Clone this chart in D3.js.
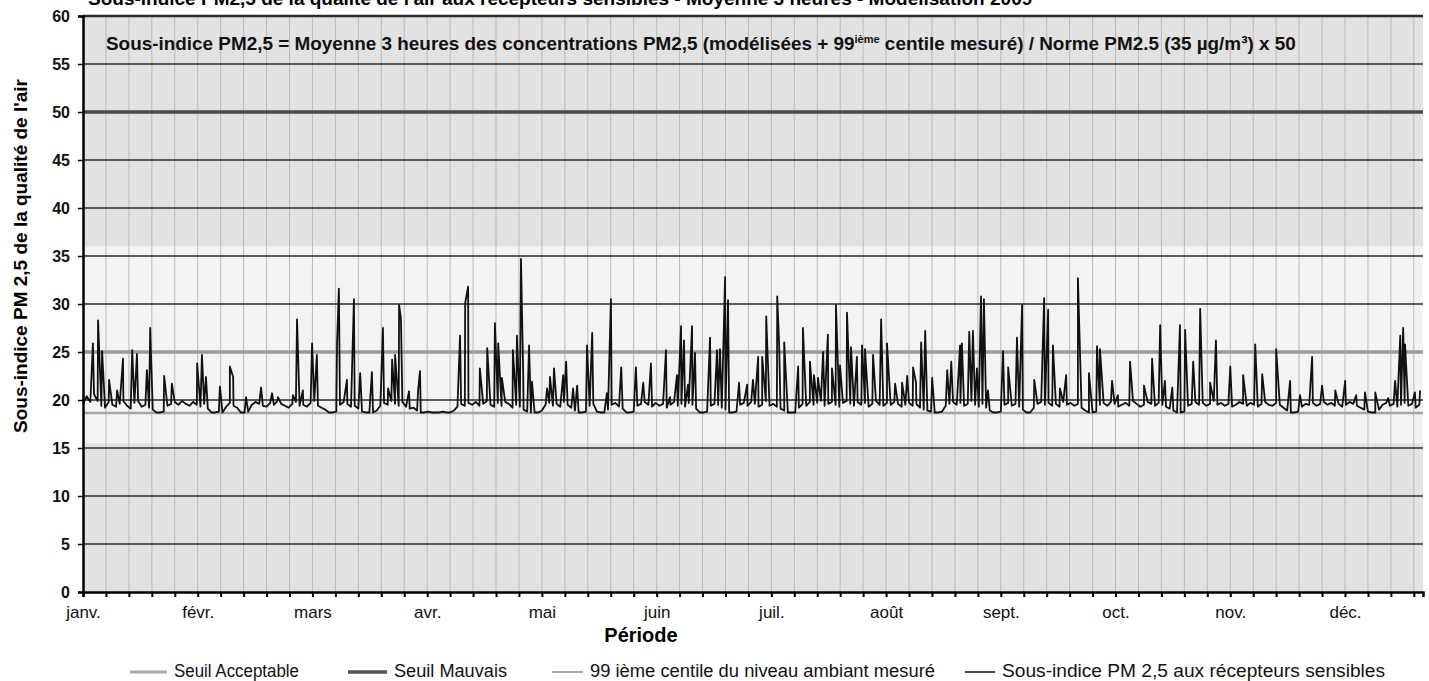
<!DOCTYPE html>
<html>
<head>
<meta charset="utf-8">
<script src="https://cdn.jsdelivr.net/npm/d3@7"></script>
<style>
  body { margin: 0; background: #fff; }
  svg { display: block; font-family: "Liberation Sans", Arial, sans-serif; }
</style>
</head>
<body>
<script>
// month labels, every 250 three-hour steps (31.25 days)
var months = ["janv.", "févr.", "mars", "avr.", "mai", "juin", "juil.", "août", "sept.", "oct.", "nov.", "déc."];
var yTicks = [0, 5, 10, 15, 20, 25, 30, 35, 40, 45, 50, 55, 60];

// thresholds
var seuilAcceptable = 25;
var seuilMauvais = 50;
var centile99 = 18.65;

// daily background level of the sub-index (day 0 = 1 Jan)
var baseline = [
  19.6, 20.4, 19.8, 20.6, 19.9, 19.4, 19.2, 19.8, 19.5, 19.3,
  19.6, 19.9, 19.4, 19.1, 19.7, 19.9, 19.3, 19.5, 19.2, 19.0,
  18.7, 18.7, 18.8, 19.4, 19.6, 19.8, 19.5, 19.9, 19.6, 19.4,
  19.8, 19.5, 19.3, 19.6, 19.1, 18.7, 18.7, 18.8, 18.7, 19.3,
  19.7, 19.4, 19.2, 18.7, 18.7, 18.8, 19.5, 19.8, 19.6, 19.4,
  19.3, 19.7, 19.5, 19.9, 19.6, 19.4, 19.2, 19.6, 19.8, 19.4,
  19.5, 19.3, 19.7, 19.9, 19.4, 19.2, 19.0, 18.7, 18.7, 18.8,
  19.5, 19.8, 19.6, 19.3, 19.4, 19.1, 18.8, 18.7, 18.7, 18.7,
  18.9, 19.4, 19.7, 19.5, 19.9, 19.6, 19.4, 19.8, 19.3, 19.1,
  19.2, 18.9, 18.7, 18.7, 18.8, 18.7, 18.7, 18.7, 18.8, 18.7,
  18.7, 18.9, 19.3, 19.6, 19.4, 19.7, 19.5, 19.8, 19.4, 19.6,
  19.9, 19.5, 19.3, 19.7, 19.4, 19.8, 19.6, 19.2, 19.5, 19.3,
  19.0, 18.8, 18.7, 18.7, 18.7, 18.9, 19.5, 19.7, 19.4, 19.6,
  19.3, 19.8, 19.5, 19.2, 18.9, 18.7, 18.7, 18.8, 19.4, 19.6,
  18.8, 18.7, 18.7, 19.0, 19.5, 19.7, 19.3, 19.1, 18.7, 18.7,
  18.8, 19.4, 19.6, 19.8, 19.5, 19.3, 19.7, 19.4, 19.6, 19.2,
  19.5, 19.8, 19.4, 19.6, 19.3, 19.7, 19.5, 19.1, 18.7, 18.7,
  18.8, 19.4, 19.6, 19.5, 19.2, 19.0, 18.7, 18.7, 18.8, 19.5,
  19.7, 19.4, 19.8, 19.6, 19.3, 19.5, 19.9, 19.4, 19.6, 19.3,
  19.1, 18.9, 18.7, 18.7, 18.7, 19.2, 19.6, 19.4, 19.8, 19.5,
  19.7, 19.9, 19.4, 19.6, 19.8, 19.5, 19.3, 19.7, 19.9, 19.6,
  19.4, 19.8, 19.5, 19.7, 19.3, 19.6, 19.9, 19.5, 19.4, 19.7,
  19.5, 19.8, 19.6, 19.3, 19.5, 19.7, 19.4, 19.6, 19.2, 19.0,
  18.9, 18.8, 18.7, 18.7, 18.8, 19.4, 19.6, 19.8, 19.5, 19.7,
  19.4, 19.6, 19.9, 19.5, 19.3, 19.6, 19.2, 18.9, 18.7, 18.7,
  18.8, 19.5, 19.7, 19.4, 19.6, 19.3, 19.0, 18.7, 18.7, 19.2,
  19.6, 19.8, 19.5, 19.7, 19.4, 19.6, 19.3, 19.8, 19.5, 19.7,
  19.4, 19.6, 19.2, 18.9, 18.7, 18.7, 18.8, 19.5, 19.7, 19.4,
  19.8, 19.6, 19.3, 19.5, 19.7, 19.4, 19.9, 19.6, 19.3, 19.5,
  19.8, 19.6, 19.4, 19.7, 19.5, 19.3, 19.1, 18.9, 18.7, 18.7,
  18.8, 19.4, 19.6, 19.8, 19.5, 19.7, 19.4, 19.6, 19.9, 19.5,
  19.7, 19.4, 19.6, 19.3, 19.5, 19.8, 19.6, 19.4, 19.7, 19.5,
  19.3, 19.6, 19.8, 19.5, 19.4, 19.7, 19.5, 19.2, 18.9, 18.7,
  18.7, 18.8, 19.3, 19.6, 19.5, 19.7, 19.4, 19.6, 19.8, 19.5,
  19.7, 19.4, 19.6, 19.3, 19.5, 19.8, 19.6, 19.4, 19.2, 19.0,
  18.8, 18.7, 18.7, 19.0, 19.5, 19.7, 19.4, 19.6, 19.3, 19.5,
  19.7, 19.4, 19.6, 19.2, 19.5
];

// peaks of the sub-index: [day of year, value]
var peaks = [
  [2.7, 25.9], [4.1, 28.3], [5.2, 25.1], [7.1, 22.1], [9.3, 21.0], [10.9, 24.3],
  [13.4, 25.2], [14.7, 24.8], [17.4, 23.1], [18.3, 27.5], [22.1, 22.5], [24.2, 21.7],
  [31.1, 23.8], [32.4, 24.7], [33.5, 22.4], [37.3, 21.4], [40.0, 23.5], [40.9, 22.4],
  [44.4, 20.3], [48.5, 21.3], [51.5, 20.7], [53.1, 20.3], [57.2, 20.5], [58.3, 28.4],
  [59.9, 21.0], [62.4, 25.9], [63.7, 24.7], [69.2, 25.9], [69.7, 31.6], [71.9, 22.1],
  [73.8, 30.5], [75.5, 22.8], [78.7, 22.9], [81.7, 27.5], [83.1, 21.2], [84.2, 24.2],
  [85.0, 24.7], [86.1, 29.9], [86.6, 28.5], [88.8, 20.9], [91.3, 21.1], [91.8, 23.0],
  [102.7, 26.7], [104.1, 30.1], [104.9, 31.8], [108.1, 23.3], [110.1, 25.4], [112.2, 28.0],
  [113.1, 25.9], [114.1, 22.3], [117.1, 25.2], [118.2, 26.7], [119.3, 34.7], [119.9, 22.9],
  [121.5, 25.7], [122.3, 21.9], [126.4, 21.2], [127.2, 22.4], [128.3, 23.3], [130.8, 22.6],
  [131.6, 24.0], [133.5, 21.2], [134.6, 21.5], [137.3, 25.7], [138.7, 27.0], [142.7, 20.7],
  [143.8, 30.5], [146.6, 23.4], [150.6, 23.4], [152.6, 21.8], [154.7, 23.8], [158.8, 25.2],
  [159.9, 20.3], [161.8, 22.6], [162.9, 27.7], [163.7, 26.2], [164.8, 21.6], [165.9, 27.7],
  [166.7, 24.9], [170.8, 26.5], [172.7, 25.2], [173.5, 25.3], [174.9, 32.8], [175.7, 30.4],
  [178.7, 21.8], [180.9, 21.6], [182.5, 22.1], [183.9, 24.5], [185.0, 24.5], [186.1, 28.7],
  [189.1, 30.8], [189.6, 26.0], [191.0, 26.0], [194.8, 23.5], [196.1, 27.5], [198.0, 24.0],
  [199.1, 22.6], [200.2, 22.3], [201.6, 25.0], [202.9, 26.8], [204.0, 23.3], [205.1, 29.9],
  [206.2, 23.6], [208.1, 29.1], [209.2, 25.5], [210.8, 24.5], [212.2, 25.7], [213.0, 25.3],
  [215.2, 24.7], [217.4, 28.4], [219.0, 25.9], [221.2, 21.7], [223.1, 21.8], [224.5, 22.5],
  [226.1, 23.4], [226.9, 21.8], [228.3, 26.0], [229.4, 27.2], [231.3, 22.3], [235.4, 23.1],
  [236.5, 24.0], [238.9, 25.7], [239.4, 25.9], [241.4, 27.1], [242.4, 27.2], [243.5, 23.3],
  [244.6, 30.8], [245.4, 30.5], [246.5, 21.0], [250.6, 25.1], [252.0, 23.4], [254.4, 26.5],
  [255.8, 29.9], [259.1, 22.1], [261.8, 30.6], [262.9, 29.4], [264.2, 25.7], [266.1, 21.2],
  [267.8, 22.6], [271.0, 32.7], [274.0, 22.8], [276.2, 25.6], [277.0, 25.3], [280.3, 22.0],
  [281.9, 20.5], [285.2, 24.0], [289.0, 21.5], [291.2, 24.3], [293.4, 27.8], [294.7, 22.0],
  [296.7, 21.3], [298.8, 27.8], [300.2, 27.3], [302.4, 24.0], [304.3, 29.5], [307.0, 21.8],
  [308.6, 26.2], [312.5, 23.5], [316.0, 22.6], [319.3, 25.8], [321.2, 22.7], [325.0, 25.3],
  [328.8, 22.0], [331.5, 20.5], [334.8, 24.5], [337.5, 21.5], [341.1, 21.0], [343.8, 22.0],
  [346.8, 20.5], [349.2, 20.8], [352.0, 20.8], [355.5, 20.2], [357.4, 22.0], [358.8, 26.7],
  [359.6, 27.5], [360.1, 25.8], [362.8, 20.8], [364.2, 21.0]
];

var W = 1429, H = 681;
var pLeft = 83, pRight = 1423, pTop = 16, pBottom = 592;

var svg = d3.select("body").append("svg").attr("width", W).attr("height", H);

var x = d3.scaleLinear().domain([0, 365]).range([pLeft, pRight]);
var y = d3.scaleLinear().domain([0, 60]).range([pBottom, pTop]);

// plot background (scanned grey)
svg.append("rect").attr("x", pLeft).attr("y", pTop)
  .attr("width", pRight - pLeft).attr("height", pBottom - pTop).attr("fill", "#e2e2e2");
svg.append("rect").attr("x", pLeft).attr("y", y(36))
  .attr("width", pRight - pLeft).attr("height", y(15.5) - y(36)).attr("fill", "#f3f3f3");

// cut-off title above the chart (only its lower half shows, as in the scan)
svg.append("text").attr("x", 88).attr("y", 5)
  .attr("font-size", 19).attr("font-weight", "bold")
  .text("Sous-indice PM2,5 de la qualité de l'air aux récepteurs sensibles - Moyenne 3 heures - Modélisation 2009");

var tickDays = d3.range(0, 365, 6.25);

// vertical light gridlines
svg.append("g").selectAll("line").data(tickDays.slice(1)).join("line")
  .attr("x1", function (d) { return x(d); }).attr("x2", function (d) { return x(d); })
  .attr("y1", pTop).attr("y2", pBottom)
  .attr("stroke", "#b8b8b8").attr("stroke-width", 1);

// horizontal gridlines
svg.append("g").selectAll("line").data(yTicks.slice(1)).join("line")
  .attr("x1", pLeft).attr("x2", pRight)
  .attr("y1", function (d) { return y(d); }).attr("y2", function (d) { return y(d); })
  .attr("stroke", "#2a2a2a").attr("stroke-width", function (d) { return d == 60 ? 2.5 : 1.6; });

// threshold lines
svg.append("line").attr("x1", pLeft).attr("x2", pRight)
  .attr("y1", y(seuilMauvais)).attr("y2", y(seuilMauvais))
  .attr("stroke", "#4a4a4a").attr("stroke-width", 3.5);
svg.append("line").attr("x1", pLeft).attr("x2", pRight)
  .attr("y1", y(seuilAcceptable)).attr("y2", y(seuilAcceptable))
  .attr("stroke", "#9a9a9a").attr("stroke-width", 3.5);
svg.append("line").attr("x1", pLeft).attr("x2", pRight)
  .attr("y1", y(centile99)).attr("y2", y(centile99))
  .attr("stroke", "#a5a5a5").attr("stroke-width", 2.5);

// series: daily level + peaks
var pts = baseline.map(function (v, i) { return [i, v]; }).concat(peaks);
pts.sort(function (a, b) { return a[0] - b[0]; });

var line = d3.line()
  .x(function (d) { return x(d[0]); })
  .y(function (d) { return y(d[1]); });

svg.append("path").datum(pts)
  .attr("d", line)
  .attr("fill", "none").attr("stroke", "#111").attr("stroke-width", 1.8)
  .attr("stroke-linejoin", "round");

// annotation
var note = svg.append("text").attr("x", 106).attr("y", 50)
  .attr("font-size", 18.9).attr("font-weight", "bold").attr("fill", "#111");
note.append("tspan").text("Sous-indice PM2,5 = Moyenne 3 heures des concentrations PM2,5 (modélisées + 99");
note.append("tspan").attr("dy", -7).attr("font-size", 11).text("ième");
note.append("tspan").attr("dy", 7).text(" centile mesuré) / Norme PM2.5 (35 µg/m³) x 50");

// axes
var xAxis = d3.axisBottom(x).tickValues(tickDays).tickSize(5)
  .tickFormat(function (d, i) { return i % 5 == 0 ? months[i / 5] : ""; });
var gx = svg.append("g").attr("transform", "translate(0," + pBottom + ")").call(xAxis);
gx.select(".domain").attr("stroke", "#000").attr("stroke-width", 2.5);
gx.selectAll(".tick line").attr("stroke", "#000").attr("stroke-width", 2);
gx.selectAll(".tick text").attr("font-size", 17).attr("fill", "#111")
  .attr("font-family", "Liberation Sans, Arial, sans-serif").attr("dy", "1.05em");

var yAxis = d3.axisLeft(y).tickValues(yTicks).tickSize(5).tickPadding(8);
var gy = svg.append("g").attr("transform", "translate(" + pLeft + ",0)").call(yAxis);
gy.select(".domain").attr("stroke", "#000").attr("stroke-width", 2.5);
gy.selectAll(".tick line").attr("stroke", "#000").attr("stroke-width", 1.5);
gy.selectAll(".tick text").attr("font-size", 16).attr("font-weight", "bold").attr("fill", "#111")
  .attr("font-family", "Liberation Sans, Arial, sans-serif");

// axis titles
svg.append("text").attr("transform", "translate(27,256) rotate(-90)")
  .attr("text-anchor", "middle").attr("font-size", 19).attr("font-weight", "bold")
  .text("Sous-indice PM 2,5 de la qualité de l'air");
svg.append("text").attr("x", 641).attr("y", 642).attr("text-anchor", "middle")
  .attr("font-size", 20).attr("font-weight", "bold").text("Période");

// legend
var legend = [
  { name: "Seuil Acceptable", x: 130, w: 37, color: "#aaaaaa", sw: 3, len: 125 },
  { name: "Seuil Mauvais", x: 348, w: 39, color: "#555555", sw: 3.5, len: 113 },
  { name: "99 ième centile du niveau ambiant mesuré", x: 552, w: 31, color: "#aaaaaa", sw: 2, len: 345 },
  { name: "Sous-indice PM 2,5 aux récepteurs sensibles", x: 965, w: 30, color: "#111111", sw: 1.5, len: 383 }
];
var lg = svg.append("g").selectAll("g").data(legend).join("g");
lg.append("line").attr("x1", function (d) { return d.x; }).attr("x2", function (d) { return d.x + d.w; })
  .attr("y1", 672).attr("y2", 672)
  .attr("stroke", function (d) { return d.color; }).attr("stroke-width", function (d) { return d.sw; });
lg.append("text").attr("x", function (d) { return d.x + d.w + 7; }).attr("y", 677)
  .attr("font-size", 17.5).attr("fill", "#111")
  .attr("textLength", function (d) { return d.len; }).attr("lengthAdjust", "spacingAndGlyphs")
  .text(function (d) { return d.name; });
</script>
</body>
</html>
